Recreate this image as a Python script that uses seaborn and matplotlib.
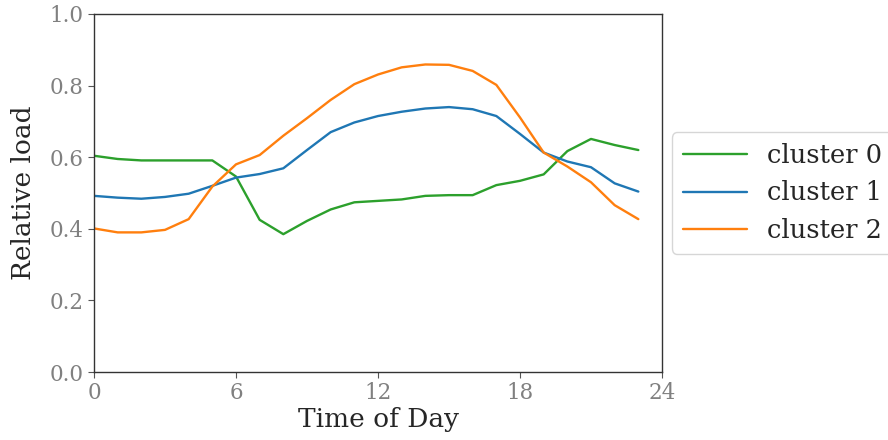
import numpy as np
import pandas as pd
import seaborn as sns
import matplotlib
matplotlib.use("Agg")
import matplotlib.pyplot as plt

# hourly relative load per cluster
hours = list(range(24))
cluster0 = [0.604, 0.595, 0.591, 0.591, 0.591, 0.591, 0.546, 0.425, 0.385, 0.422,
            0.454, 0.474, 0.478, 0.482, 0.492, 0.494, 0.494, 0.522, 0.534, 0.552,
            0.617, 0.651, 0.634, 0.620]
cluster1 = [0.492, 0.487, 0.484, 0.489, 0.498, 0.520, 0.543, 0.553, 0.569, 0.620,
            0.670, 0.697, 0.715, 0.727, 0.736, 0.740, 0.734, 0.715, 0.665, 0.613,
            0.588, 0.572, 0.527, 0.504]
cluster2 = [0.401, 0.390, 0.390, 0.397, 0.427, 0.518, 0.580, 0.606, 0.660, 0.709,
            0.760, 0.804, 0.831, 0.851, 0.859, 0.858, 0.841, 0.802, 0.711, 0.613,
            0.574, 0.530, 0.466, 0.427]
names = ["cluster 0", "cluster 1", "cluster 2"]
colors = {"cluster 0": "#2ca02c", "cluster 1": "#1f77b4", "cluster 2": "#ff7f0e"}

df = pd.DataFrame({
    "hour": hours * 3,
    "load": cluster0 + cluster1 + cluster2,
    "cluster": [names[0]] * 24 + [names[1]] * 24 + [names[2]] * 24,
})

sns.set_style("ticks")
plt.rcParams["font.family"] = ["DejaVu Serif"]

fig = plt.figure(figsize=(8.88, 4.4), dpi=100)
ax = fig.add_axes([94 / 888, 1 - 372 / 440, 568 / 888, 358 / 440])

sns.lineplot(data=df, x="hour", y="load", hue="cluster", hue_order=names,
             palette=colors, linewidth=1.7, ax=ax)

ax.set_xlim(0, 24)
ax.set_ylim(0, 1)
ax.set_xticks([0, 6, 12, 18, 24])
ax.set_yticks(np.arange(0, 1.01, 0.2))
ax.set_yticklabels(["%.1f" % v for v in np.arange(0, 1.01, 0.2)])
ax.tick_params(labelsize=15.5, labelcolor="#808080", color="#555555", length=4)
for s in ax.spines.values():
    s.set_color("#333333")
    s.set_linewidth(1.0)
ax.set_xlabel("Time of Day", fontsize=19, labelpad=2)
ax.set_ylabel("Relative load", fontsize=19, labelpad=10)

ax.legend(loc="center left", bbox_to_anchor=(1.018, 0.5), borderaxespad=0,
          fontsize=18.5, frameon=True, handlelength=2.5)

fig.savefig("out.png", dpi=100)
